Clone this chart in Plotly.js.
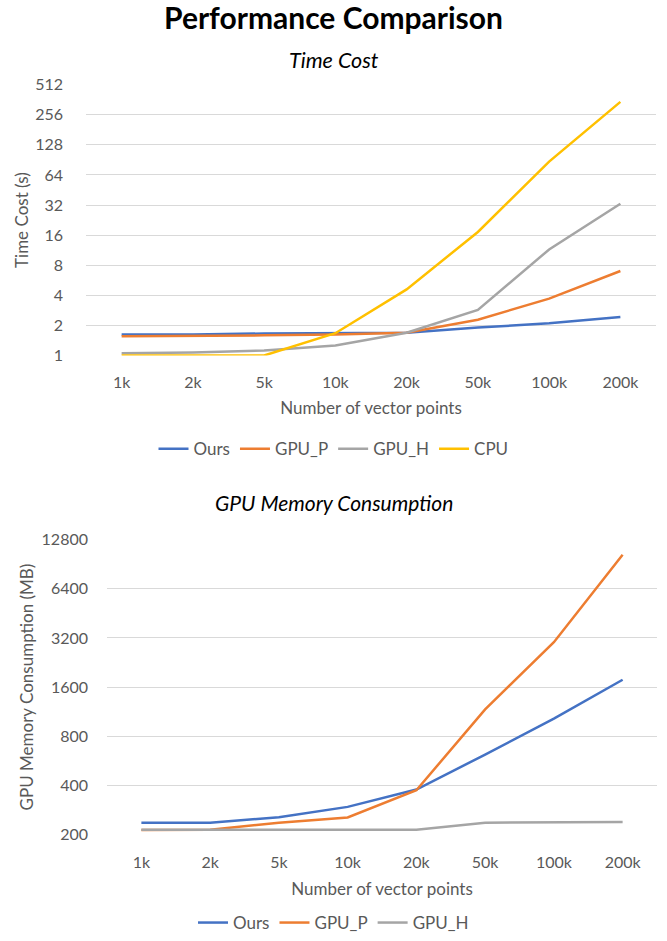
<!DOCTYPE html>
<html>
<head>
<meta charset="utf-8">
<script src="https://cdn.plot.ly/plotly-3.0.1.min.js"></script>
<style>html,body{margin:0;padding:0;background:#fff;}#chart{width:667px;height:941px;}</style>
</head>
<body>
<div id="chart"></div>
<script>
var categories = ["1k", "2k", "5k", "10k", "20k", "50k", "100k", "200k"];

// Time cost (s)
var timeOurs  = [1.62, 1.62, 1.66, 1.68, 1.69, 1.90, 2.10, 2.43];
var timeGPU_P = [1.56, 1.57, 1.59, 1.62, 1.69, 2.28, 3.70, 7.0];
var timeGPU_H = [1.05, 1.07, 1.12, 1.26, 1.69, 2.85, 11.5, 32.9];
var timeCPU   = [1.0, 1.0, 1.0, 1.67, 4.58, 17.2, 87, 344];

// GPU memory (MB)
var memOurs  = [236, 236, 255, 295, 377, 617, 1024, 1774];
var memGPU_P = [213, 214, 236, 254, 373, 1168, 3015, 10360];
var memGPU_H = [214, 214, 214, 214, 214, 236, 238, 238];

var timeTicks = [1, 2, 4, 8, 16, 32, 64, 128, 256, 512];
var memTicks  = [200, 400, 800, 1600, 3200, 6400, 12800];

var colors = {Ours: "#4472C4", GPU_P: "#ED7D31", GPU_H: "#A5A5A5", CPU: "#FFC000"};
var FONT = "Lato, 'Open Sans', sans-serif";
var TICKC = "#595959";
var LW = 2.5;

function tr(name, y, xa, ya, lg) {
  return {x: categories, y: y, name: name, type: "scatter", mode: "lines",
          line: {color: colors[name], width: LW}, xaxis: xa, yaxis: ya, legend: lg};
}

var data = [
  tr("Ours", timeOurs, "x", "y", "legend"),
  tr("GPU_P", timeGPU_P, "x", "y", "legend"),
  tr("GPU_H", timeGPU_H, "x", "y", "legend"),
  tr("CPU", timeCPU, "x", "y", "legend"),
  tr("Ours", memOurs, "x2", "y2", "legend2"),
  tr("GPU_P", memGPU_P, "x2", "y2", "legend2"),
  tr("GPU_H", memGPU_H, "x2", "y2", "legend2")
];

var H = 941, W = 667;
function py(p) { return 1 - p / H; }
function px(p) { return p / W; }

var tickFont = {family: FONT, size: 16, color: TICKC};
var titleFont = {family: FONT, size: 17, color: TICKC};

var layout = {
  width: W, height: H,
  margin: {l: 0, r: 0, t: 0, b: 0},
  paper_bgcolor: "#fff", plot_bgcolor: "#fff",
  font: {family: FONT, color: TICKC},
  showlegend: true,
  title: {text: "<b>Performance Comparison</b>", font: {family: FONT, size: 30, color: "#000"},
          x: 0.5, xanchor: "center", y: py(19), yanchor: "middle", yref: "paper"},
  xaxis: {domain: [px(86), px(656)], anchor: "y", type: "category", range: [-0.5, 7.5],
          showgrid: false, zeroline: false, showline: false, ticks: "",
          tickfont: tickFont, ticklabelstandoff: 16,
          title: {text: "Number of vector points", font: titleFont, standoff: 11}},
  yaxis: {domain: [py(357), py(85)], anchor: "x", type: "log",
          range: [0, Math.log10(512)], tickvals: timeTicks, ticktext: timeTicks.map(String),
          showgrid: true, gridcolor: "#D9D9D9", gridwidth: 1, zeroline: false, showline: false, ticks: "",
          tickfont: tickFont, ticklabelstandoff: 22,
          title: {text: "Time Cost (s)", font: titleFont, standoff: 2}},
  xaxis2: {domain: [px(107), px(657)], anchor: "y2", type: "category", range: [-0.5, 7.5],
          showgrid: false, zeroline: false, showline: false, ticks: "",
          tickfont: tickFont, ticklabelstandoff: 17,
          title: {text: "Number of vector points", font: titleFont, standoff: 12}},
  yaxis2: {domain: [py(838), py(542)], anchor: "x2", type: "log",
          range: [Math.log10(200), Math.log10(12800)], tickvals: memTicks, ticktext: memTicks.map(String),
          showgrid: true, gridcolor: "#D9D9D9", gridwidth: 1, zeroline: false, showline: false, ticks: "",
          tickfont: tickFont, ticklabelstandoff: 18,
          title: {text: "GPU Memory Consumption (MB)", font: titleFont, standoff: 3}},
  legend: {orientation: "h", x: 0.5, xanchor: "center", y: py(451), yanchor: "middle",
           font: {family: FONT, size: 17, color: TICKC}, bgcolor: "rgba(0,0,0,0)"},
  legend2: {orientation: "h", x: 0.5, xanchor: "center", y: py(927), yanchor: "middle",
           font: {family: FONT, size: 17, color: TICKC}, bgcolor: "rgba(0,0,0,0)"},
  annotations: [
    {text: "<i>Time Cost</i>", xref: "paper", yref: "paper", x: 0.5, y: py(60), xanchor: "center", yanchor: "middle",
     showarrow: false, font: {family: FONT, size: 21.5, color: "#000"}},
    {text: "<i>GPU Memory Consumption</i>", xref: "paper", yref: "paper", x: 0.5, y: py(505), xanchor: "center", yanchor: "middle",
     showarrow: false, font: {family: FONT, size: 21, color: "#000"}}
  ]
};

Plotly.newPlot("chart", data, layout, {displayModeBar: false, staticPlot: true});
</script>
</body>
</html>
